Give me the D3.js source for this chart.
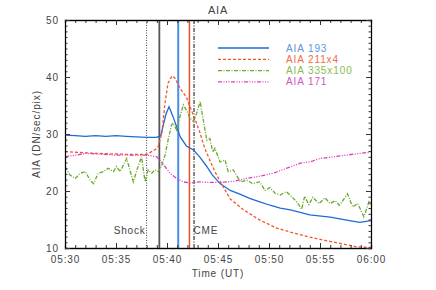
<!DOCTYPE html>
<html>
<head>
<meta charset="utf-8">
<script src="https://cdn.jsdelivr.net/npm/d3@7"></script>
<style>
  body { margin: 0; background: #fff; }
  text { font-family: "Liberation Sans", Arial, sans-serif; fill: #444; }
</style>
</head>
<body>
<div id="chart"></div>
<script>
// minutes after 05:30 UT, value
const aia193 = [
  [0, 29.8], [1, 29.7], [2, 29.6], [3, 29.7], [4, 29.6], [5, 29.7], [6, 29.6], [7, 29.5],
  [8, 29.4], [9, 29.4], [9.4, 29.8], [9.6, 31.3], [9.9, 33.5], [10.2, 34.8], [10.6, 33.0],
  [11.3, 29.5], [11.9, 27.9], [12.6, 27.2], [13.2, 26.0], [13.9, 24.3], [14.4, 22.9],
  [15.2, 21.3], [16.2, 20.1], [17.2, 19.4], [18.1, 18.7], [19.1, 18.1], [20.1, 17.5],
  [21.1, 17.0], [22.1, 16.7], [24.0, 15.8], [26.0, 15.4], [27.9, 14.8], [28.9, 14.5], [30, 14.8]
];
const aia211 = [
  [0, 26.9], [1, 26.8], [2, 26.7], [3, 26.6], [5, 26.5], [6.5, 26.4], [8, 26.4], [8.7, 27.1],
  [9.1, 27.6], [9.5, 30.2], [9.8, 35.4], [10.1, 38.9], [10.5, 40.2], [10.8, 39.8], [11.1, 38.6],
  [11.4, 37.7], [11.9, 36.5], [12.25, 34.8], [12.7, 32.8], [13.2, 30.4], [13.7, 27.5],
  [14.2, 25.4], [14.7, 23.4], [15.2, 21.7], [16.2, 18.6], [17.5, 16.7], [19.1, 14.9],
  [20.75, 13.5], [22.1, 12.8], [24.0, 11.9], [25.3, 11.4], [27.0, 10.8], [28.6, 10.2], [30, 10.1]
];
const aia335 = [
  [0, 24.3], [0.5, 22.8], [1.0, 22.2], [1.5, 23.1], [2.0, 23.4], [2.45, 21.9], [2.8, 21.3],
  [3.25, 23.1], [3.75, 23.4], [4.25, 24.0], [4.75, 23.4], [5.05, 24.3], [5.4, 23.4], [6.05, 25.7],
  [6.4, 23.4], [6.7, 21.6], [7.05, 23.7], [7.5, 26.0], [7.85, 21.6], [8.15, 23.7], [8.5, 23.1],
  [8.8, 23.7], [9.15, 23.4], [9.5, 24.6], [9.8, 26.2], [10.1, 28.9], [10.45, 31.6], [10.6, 31.9],
  [10.95, 30.7], [11.3, 33.3], [11.6, 35.1], [11.9, 34.2], [12.25, 32.8], [12.6, 32.2],
  [12.9, 33.6], [13.25, 35.7], [13.55, 32.5], [13.9, 28.9], [14.2, 29.2], [14.5, 26.8],
  [14.7, 27.5], [15.2, 25.1], [15.7, 25.4], [16.0, 23.4], [16.5, 23.7], [17.2, 21.6],
  [17.8, 21.9], [18.4, 21.3], [19.1, 21.6], [19.6, 20.1], [20.1, 20.6], [20.6, 19.6],
  [21.1, 19.3], [21.7, 19.9], [22.4, 18.7], [22.8, 17.9], [23.2, 16.8], [23.5, 19.1],
  [23.9, 17.6], [24.3, 18.9], [24.9, 17.8], [25.5, 18.8], [26.0, 17.8], [26.5, 18.3],
  [26.9, 17.5], [27.7, 19.5], [28.2, 17.2], [28.7, 17.8], [29.3, 15.5], [29.8, 18.1],
  [30.3, 16.6], [30.9, 17.5], [31.4, 16.0]
];
const aia171 = [
  [0, 26.0], [2.1, 26.6], [5, 26.3], [8, 26.3], [9, 26.0], [9.3, 25.4], [9.8, 24.3],
  [10.3, 23.1], [10.95, 22.2], [11.6, 21.6], [12.25, 21.4], [13.2, 21.6], [14.2, 21.5],
  [15.2, 21.5], [16.5, 21.7], [17.8, 22.2], [19.1, 22.6], [20.4, 23.1], [21.75, 24.0],
  [23.1, 24.9], [24.0, 25.1], [25.0, 25.7], [26.3, 26.0], [27.6, 26.3], [28.9, 26.6],
  [29.9, 26.8], [30, 27.0]
];
const seriesNames = ["AIA 193", "AIA 211x4", "AIA 335x100", "AIA 171"];
const xTickLabels = ["05:30", "05:35", "05:40", "05:45", "05:50", "05:55", "06:00"];
const yTicks = [10, 20, 30, 40, 50];
// event markers: minutes after 05:30
const markers = [
  { t: 8.0, color: "#444", width: 1, dash: "1,1.5" },
  { t: 9.25, color: "#555", width: 1.8, dash: null },
  { t: 11.1, color: "#4a8ee6", width: 2, dash: null },
  { t: 12.2, color: "#e0542a", width: 1.5, dash: null },
  { t: 12.65, color: "#333", width: 1.2, dash: "4,1.5,1,1.5" }
];

const width = 436, height = 290;
const margin = { top: 20, right: 65, bottom: 42, left: 65 };
const base = new Date(2012, 0, 1, 5, 30);
const toDate = m => new Date(base.getTime() + m * 60000);

const svg = d3.select("#chart").append("svg")
  .attr("width", width).attr("height", height);

const xScale = d3.scaleTime()
  .domain([toDate(0), toDate(30)])
  .range([margin.left, width - margin.right]);
const yScale = d3.scaleLinear()
  .domain([10, 50])
  .range([height - margin.bottom, margin.top]);

const plot = svg.append("g");
const clipId = "plotclip";
svg.append("clipPath").attr("id", clipId).append("rect")
  .attr("x", margin.left).attr("y", margin.top)
  .attr("width", width - margin.left - margin.right)
  .attr("height", height - margin.top - margin.bottom);

const line = d3.line()
  .x(d => xScale(toDate(d[0])))
  .y(d => yScale(d[1]));

const styles = [
  { data: aia193, color: "#1f6bd6", dash: null, text: "#5d95e0" },
  { data: aia211, color: "#f0582a", dash: "3,2", text: "#ef6a45" },
  { data: aia335, color: "#6aa82c", dash: "4,1.5,1,1.5", text: "#88bb50" },
  { data: aia171, color: "#df3cc0", dash: "4,1.5,1,1.5,1,1.5,1,1.5", text: "#d055c4" }
];

// markers
markers.forEach(m => {
  plot.append("line")
    .attr("x1", xScale(toDate(m.t))).attr("x2", xScale(toDate(m.t)))
    .attr("y1", yScale(50)).attr("y2", yScale(10))
    .attr("stroke", m.color).attr("stroke-width", m.width)
    .attr("stroke-dasharray", m.dash);
});

// series
const g = plot.append("g").attr("clip-path", `url(#${clipId})`);
styles.forEach(s => {
  g.append("path").datum(s.data)
    .attr("d", line)
    .attr("fill", "none")
    .attr("stroke", s.color)
    .attr("stroke-width", 1.3)
    .attr("stroke-dasharray", s.dash);
});

// axes (ticks pointing inward, IDL style)
const axisColor = "#333";
function styleAxis(sel) {
  sel.select(".domain").attr("stroke", axisColor).attr("stroke-width", 1.3);
  sel.selectAll(".tick line").attr("stroke", axisColor);
  sel.selectAll("text").attr("fill", "#444").style("font-size", "10px")
    .style("letter-spacing", "0.9px");
}
const minuteTicks = d3.range(0, 31).map(toDate);
const majorTicks = xTickLabels.map((_, i) => toDate(i * 5));

const xb = svg.append("g").attr("transform", `translate(0,${height - margin.bottom})`);
xb.call(d3.axisBottom(xScale).tickValues(minuteTicks).tickSize(-3).tickFormat(""));
xb.append("g").call(d3.axisBottom(xScale).tickValues(majorTicks).tickSize(-5)
  .tickPadding(8).tickFormat((d, i) => xTickLabels[i]));
styleAxis(xb);

const xt = svg.append("g").attr("transform", `translate(0,${margin.top})`);
xt.call(d3.axisTop(xScale).tickValues(minuteTicks).tickSize(-3).tickFormat(""));
xt.append("g").call(d3.axisTop(xScale).tickValues(majorTicks).tickSize(-5).tickFormat(""));
styleAxis(xt);

const minorY = d3.range(10, 51, 1);
const yl = svg.append("g").attr("transform", `translate(${margin.left},0)`);
yl.call(d3.axisLeft(yScale).tickValues(minorY).tickSize(-2.5).tickFormat(""));
yl.append("g").call(d3.axisLeft(yScale).tickValues(yTicks).tickSize(-5).tickPadding(6)
  .tickFormat(d3.format("d")));
styleAxis(yl);

const yr = svg.append("g").attr("transform", `translate(${width - margin.right},0)`);
yr.call(d3.axisRight(yScale).tickValues(minorY).tickSize(-2.5).tickFormat(""));
yr.append("g").call(d3.axisRight(yScale).tickValues(yTicks).tickSize(-5).tickFormat(""));
styleAxis(yr);

// titles
svg.append("text").attr("x", (margin.left + width - margin.right) / 2).attr("y", 14)
  .attr("text-anchor", "middle").style("font-size", "11px").style("letter-spacing", "0.8px")
  .text("AIA");
svg.append("text").attr("x", (margin.left + width - margin.right) / 2).attr("y", 277)
  .attr("text-anchor", "middle").style("font-size", "10px").style("letter-spacing", "0.9px")
  .text("Time (UT)");
svg.append("text")
  .attr("transform", `translate(40,${(margin.top + height - margin.bottom) / 2}) rotate(-90)`)
  .attr("text-anchor", "middle").style("font-size", "10px").style("letter-spacing", "0.9px")
  .text("AIA (DN/sec/pix)");

// event labels
svg.append("text").attr("x", xScale(toDate(7.9))).attr("y", yScale(12.4))
  .attr("text-anchor", "end").style("font-size", "10px").style("letter-spacing", "0.8px")
  .text("Shock");
svg.append("text").attr("x", xScale(toDate(12.6))).attr("y", yScale(12.4))
  .attr("text-anchor", "start").style("font-size", "10px").style("letter-spacing", "0.8px")
  .text("CME");

// legend
const legend = svg.append("g");
styles.forEach((s, i) => {
  const y = 48 + i * 11.3;
  legend.append("line").attr("x1", 218).attr("x2", 269).attr("y1", y).attr("y2", y)
    .attr("stroke", s.color).attr("stroke-width", 1.3).attr("stroke-dasharray", s.dash);
  legend.append("text").attr("x", 286).attr("y", y + 3.5)
    .style("font-size", "10px").style("letter-spacing", "0.9px")
    .attr("fill", s.text).style("fill", s.text)
    .text(seriesNames[i]);
});
</script>
</body>
</html>
